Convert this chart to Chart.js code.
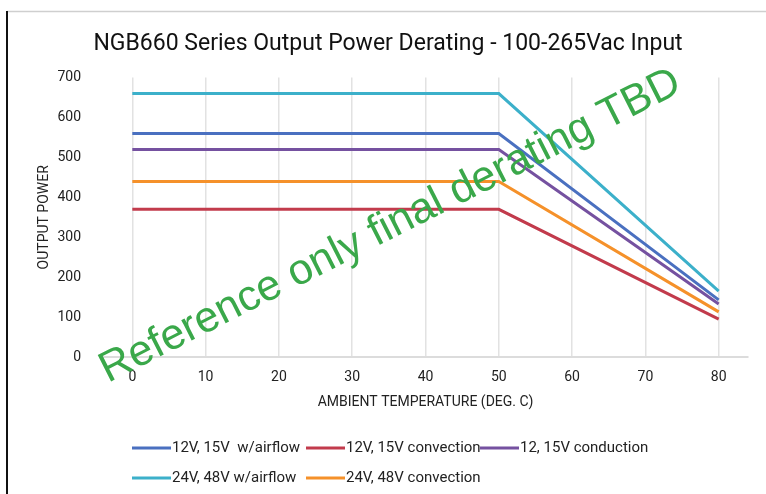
<!DOCTYPE html>
<html>
<head>
<meta charset="utf-8">
<script src="https://cdn.jsdelivr.net/npm/chart.js@4"></script>
<style>
  html, body { margin: 0; padding: 0; background: #fff; }
  #wrap { width: 766px; height: 494px; }
</style>
</head>
<body>
<div id="wrap"><canvas id="chart"></canvas></div>
<script>
const temps = [0, 50, 80];
const yTicks = [0, 100, 200, 300, 400, 500, 600, 700];
const xTicks = [0, 10, 20, 30, 40, 50, 60, 70, 80];

const seriesNames = [
  '12V, 15V  w/airflow',
  '12V, 15V convection',
  '12, 15V conduction',
  '24V, 48V w/airflow',
  '24V, 48V convection',
];
const airflow12 = [560, 560, 143];
const convection12 = [370, 370, 95];
const conduction12 = [520, 520, 133];
const airflow24 = [660, 660, 165];
const convection24 = [440, 440, 113];

const colors = ['#4a70c0', '#c23b4c', '#7551a0', '#3cb0ca', '#f5912a'];
const seriesValues = [airflow12, convection12, conduction12, airflow24, convection24];

const frame = {
  id: 'frame',
  afterDraw(chart) {
    const { ctx } = chart;
    ctx.save();
    ctx.strokeStyle = '#cfcfcf';
    ctx.lineWidth = 1.5;
    ctx.beginPath();
    ctx.moveTo(7, 11.5);
    ctx.lineTo(chart.width, 11.5);
    ctx.stroke();
    ctx.strokeStyle = '#111';
    ctx.lineWidth = 2;
    ctx.beginPath();
    ctx.moveTo(7, 11);
    ctx.lineTo(7, chart.height);
    ctx.stroke();
    ctx.restore();
  },
};

// legend laid out in columns, like the original
const columnLegend = {
  id: 'columnLegend',
  afterDraw(chart, args, options) {
    const { ctx } = chart;
    const cols = options.columns;
    ctx.save();
    ctx.font = options.font;
    ctx.fillStyle = '#222';
    ctx.textBaseline = 'middle';
    chart.data.datasets.forEach((ds, i) => {
      const x = cols[i % cols.length];
      const y = options.top + Math.floor(i / cols.length) * options.rowHeight;
      ctx.strokeStyle = ds.borderColor;
      ctx.lineWidth = 3;
      ctx.beginPath();
      ctx.moveTo(x, y);
      ctx.lineTo(x + options.lineLength, y);
      ctx.stroke();
      ctx.fillText(ds.label, x + options.lineLength + 1, y);
    });
    ctx.restore();
  },
};

const watermark = {
  id: 'watermark',
  afterDraw(chart, args, options) {
    const { ctx } = chart;
    ctx.save();
    ctx.translate(options.x, options.y);
    ctx.rotate(options.angle);
    ctx.font = options.font;
    ctx.fillStyle = options.color;
    ctx.textBaseline = 'alphabetic';
    ctx.fillText(options.text, 0, 0);
    ctx.restore();
  },
};

new Chart(document.getElementById('chart'), {
  type: 'line',
  data: {
    datasets: seriesNames.map((name, i) => ({
      label: name,
      data: temps.map((t, j) => ({ x: t, y: seriesValues[i][j] })),
      borderColor: colors[i],
      backgroundColor: colors[i],
      borderWidth: 3,
      pointRadius: 0,
      tension: 0,
    })),
  },
  options: {
    responsive: true,
    maintainAspectRatio: false,
    animation: false,
    layout: {
      padding: { left: 28, right: 18, top: 29, bottom: 70 },
    },
    scales: {
      x: {
        type: 'linear',
        min: -4,
        max: 84,
        afterBuildTicks: (scale) => {
          scale.ticks = xTicks.map((v) => ({ value: v }));
        },
        afterFit: (scale) => {
          scale.height = 67;
        },
        grid: {
          color: '#e2e2e2',
          lineWidth: 1.5,
          drawTicks: false,
        },
        border: { color: '#dcdcdc', width: 2 },
        ticks: {
          padding: 12,
          color: '#222',
          font: { family: 'Roboto', size: 14 },
        },
        title: {
          display: true,
          text: 'AMBIENT TEMPERATURE (DEG. C)',
          color: '#222',
          font: { family: 'Roboto', size: 14 },
          padding: { top: 4, bottom: 13 },
        },
      },
      y: {
        min: 0,
        max: 700,
        afterBuildTicks: (scale) => {
          scale.ticks = yTicks.map((v) => ({ value: v }));
        },
        afterFit: (scale) => {
          scale.width = 75;
        },
        grid: { display: false, drawTicks: false },
        border: { display: false },
        ticks: {
          padding: 22,
          color: '#222',
          font: { family: 'Roboto', size: 14 },
        },
        title: {
          display: true,
          text: 'OUTPUT POWER',
          color: '#222',
          font: { family: 'Roboto', size: 14 },
          padding: { top: 8, bottom: 0 },
        },
      },
    },
    plugins: {
      legend: { display: false },
      tooltip: { enabled: false },
      title: {
        display: true,
        text: 'NGB660 Series Output Power Derating - 100-265Vac Input',
        color: '#111',
        font: { family: 'Roboto', size: 23, weight: 'normal' },
        padding: { top: 1, bottom: 20 },
      },
      columnLegend: {
        columns: [132, 306, 480],
        top: 448,
        rowHeight: 30,
        lineLength: 39,
        font: '15px Roboto',
      },
      watermark: {
        text: 'Reference only final derating TBD',
        x: 108,
        y: 383,
        angle: -0.47,
        font: '43px "Liberation Sans"',
        color: '#3aa84a',
      },
    },
  },
  plugins: [frame, columnLegend, watermark],
});
</script>
</body>
</html>
